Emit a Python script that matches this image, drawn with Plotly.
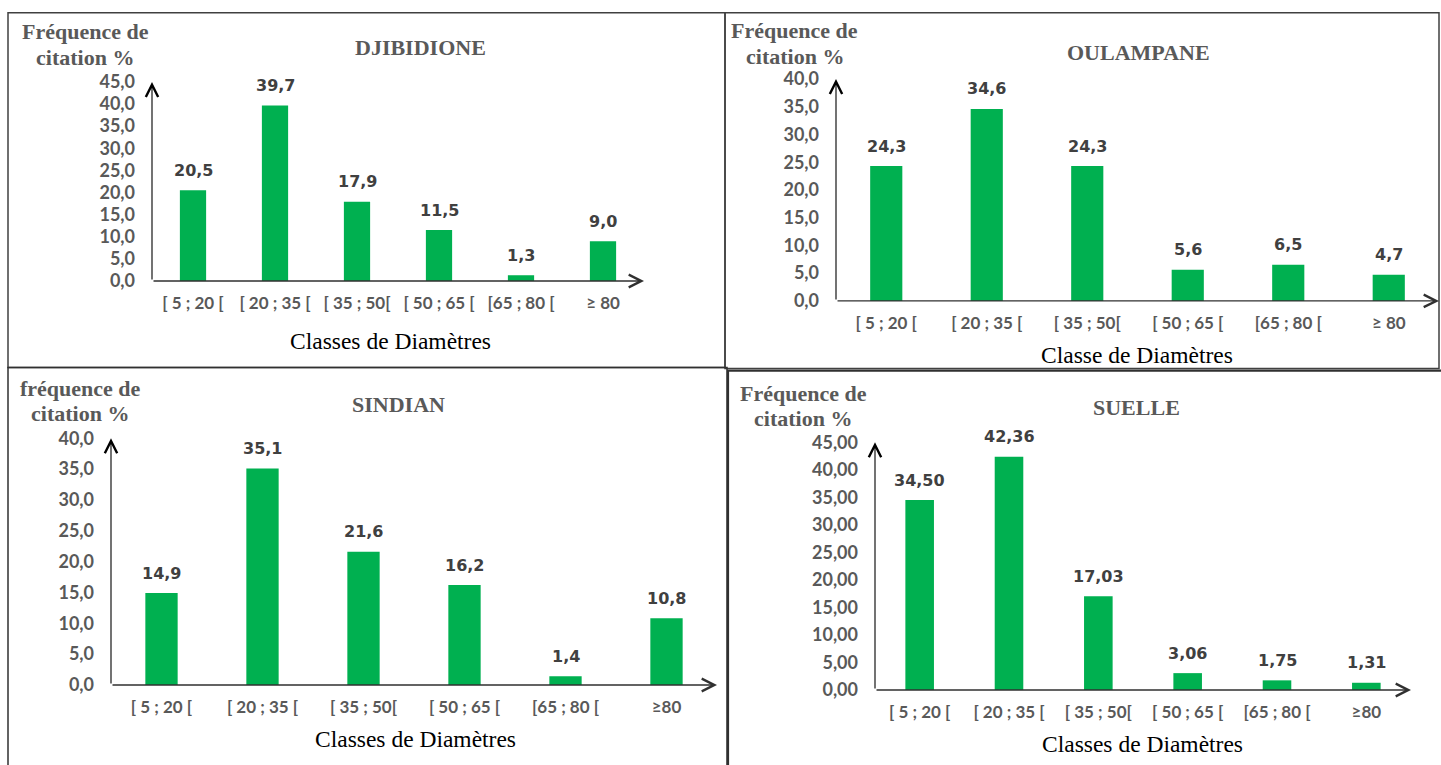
import plotly.graph_objects as go

W, H = 1441, 765

# Diameter classes (tick labels differ slightly between sites)
classes_djibidione = ["[ 5 ; 20 [", "[ 20 ; 35 [", "[ 35 ; 50[", "[ 50 ; 65 [", "[65 ; 80 [", "≥ 80"]
classes_oulampane = ["[ 5 ; 20 [", "[ 20 ; 35 [", "[ 35 ; 50[", "[ 50 ; 65 [", "[65 ; 80 [", "≥ 80"]
classes_sindian = ["[ 5 ; 20 [", "[ 20 ; 35 [", "[ 35 ; 50[", "[ 50 ; 65 [", "[65 ; 80 [", "≥80"]
classes_suelle = ["[ 5 ; 20 [", "[ 20 ; 35 [", "[ 35 ; 50[", "[ 50 ; 65 [", "[65 ; 80 [", "≥80"]

# Citation frequency (%) per diameter class
freq_djibidione = [20.5, 39.7, 17.9, 11.5, 1.3, 9.0]
freq_oulampane = [24.3, 34.6, 24.3, 5.6, 6.5, 4.7]
freq_sindian = [14.9, 35.1, 21.6, 16.2, 1.4, 10.8]
freq_suelle = [34.50, 42.36, 17.03, 3.06, 1.75, 1.31]

# Y-axis tick values
ticks_djibidione = [0, 5, 10, 15, 20, 25, 30, 35, 40, 45]
ticks_oulampane = [0, 5, 10, 15, 20, 25, 30, 35, 40]
ticks_sindian = [0, 5, 10, 15, 20, 25, 30, 35, 40]
ticks_suelle = [0, 5, 10, 15, 20, 25, 30, 35, 40, 45]

GREEN = "#00B050"
GRAY = "#595959"
DARK = "#404040"
SERIF = "Liberation Serif, Times New Roman, serif"
SANS = "Lato, Calibri, sans-serif"
HEAVY = "DejaVu Sans, Arial Black, sans-serif"

# page offset / vertical scale of the displayed figure
Y_OFF, Y_SCALE = 8.7, 0.976


def px(x):
    return x / W


def py(y):
    return 1 - ((y - Y_OFF) / Y_SCALE) / H


panels = [
    dict(name="DJIBIDIONE", ytitle=("Fréquence de", "citation %"), xtitle="Classes de Diamètres",
         cats=classes_djibidione, vals=freq_djibidione, ticks=ticks_djibidione, ymax=45, dec=1,
         x0=152, x1=644, y0=279, y1=79,
         title_xy=(420, 44), ytitle_x=85, ytitle_y=(28, 54), xtitle_xy=(390, 339)),
    dict(name="OULAMPANE", ytitle=("Fréquence de", "citation %"), xtitle="Classe de Diamètres",
         cats=classes_oulampane, vals=freq_oulampane, ticks=ticks_oulampane, ymax=40, dec=1,
         x0=836, x1=1439, y0=299, y1=76,
         title_xy=(1138, 49), ytitle_x=795, ytitle_y=(27, 53), xtitle_xy=(1137, 353)),
    dict(name="SINDIAN", ytitle=("fréquence de", "citation %"), xtitle="Classes de Diamètres",
         cats=classes_sindian, vals=freq_sindian, ticks=ticks_sindian, ymax=40, dec=1,
         x0=111, x1=717, y0=685, y1=437,
         title_xy=(398, 403), ytitle_x=80, ytitle_y=(387, 412), xtitle_xy=(415, 739)),
    dict(name="SUELLE", ytitle=("Fréquence de", "citation %"), xtitle="Classes de Diamètres",
         cats=classes_suelle, vals=freq_suelle, ticks=ticks_suelle, ymax=45, dec=2,
         x0=875, x1=1411, y0=690, y1=441,
         title_xy=(1136, 406), ytitle_x=803, ytitle_y=(392, 417), xtitle_xy=(1142, 744)),
]

fig = go.Figure()
annotations = []
layout_axes = {}

for i, p in enumerate(panels, start=1):
    xa = "x" if i == 1 else f"x{i}"
    ya = "y" if i == 1 else f"y{i}"
    fig.add_trace(go.Bar(
        x=p["cats"], y=p["vals"], xaxis=xa, yaxis=ya,
        marker=dict(color=GREEN, line=dict(width=0)),
        width=0.32, hoverinfo="skip",
    ))
    fmt = f"{{:.{p['dec']}f}}"
    layout_axes[f"xaxis{'' if i == 1 else i}"] = dict(
        domain=[px(p["x0"]), px(p["x1"])], anchor=ya,
        type="category", range=[-0.5, 5.5],
        showline=False, showgrid=False, zeroline=False, ticks="",
        tickfont=dict(family=SANS, size=17, color=GRAY, weight="bold"),
        ticklabelstandoff=10,
    )
    layout_axes[f"yaxis{'' if i == 1 else i}"] = dict(
        domain=[py(p["y0"]), py(p["y1"])], anchor=xa,
        range=[0, p["ymax"]], tickvals=p["ticks"], tickformat=f".{p['dec']}f",
        showline=False, showgrid=False, zeroline=False, ticks="",
        tickfont=dict(family=SANS, size=18, color=GRAY, weight="bold"),
        ticklabelstandoff=16,
    )
    # value labels above each bar
    for c, v in zip(p["cats"], p["vals"]):
        annotations.append(dict(
            x=c, y=v, xref=xa, yref=ya, text=fmt.format(v).replace(".", ","),
            showarrow=False, yanchor="middle", yshift=20,
            font=dict(family=HEAVY, size=16, color=DARK, weight="bold"),
        ))
    # axis lines with open arrow heads
    annotations.append(dict(
        xref=f"{xa} domain", yref=f"{ya} domain", axref=f"{xa} domain", ayref=f"{ya} domain",
        x=1, y=0, ax=0, ay=0, text="", showarrow=True,
        arrowhead=5, arrowsize=1.9, arrowwidth=1.3, arrowcolor="#303030",
    ))
    annotations.append(dict(
        xref=f"{xa} domain", yref=f"{ya} domain", axref=f"{xa} domain", ayref=f"{ya} domain",
        x=0, y=1, ax=0, ay=0, text="", showarrow=True,
        arrowhead=5, arrowsize=2.2, arrowwidth=1.1, arrowcolor="#000000",
    ))
    # chart title
    tx, ty = p["title_xy"]
    annotations.append(dict(
        x=px(tx), y=py(ty), xref="paper", yref="paper", text=p["name"], showarrow=False,
        xanchor="center", yanchor="middle",
        font=dict(family=SERIF, size=22, color=GRAY, weight="bold"),
    ))
    # y-axis title, one annotation per line for tight line spacing
    for line, ly in zip(p["ytitle"], p["ytitle_y"]):
        annotations.append(dict(
            x=px(p["ytitle_x"]), y=py(ly), xref="paper", yref="paper", text=line,
            showarrow=False, xanchor="center", yanchor="middle",
            font=dict(family=SERIF, size=22, color=GRAY, weight="bold"),
        ))
    # x-axis title
    tx, ty = p["xtitle_xy"]
    annotations.append(dict(
        x=px(tx), y=py(ty), xref="paper", yref="paper", text=p["xtitle"], showarrow=False,
        xanchor="center", yanchor="middle",
        font=dict(family=SERIF, size=23.5, color="#000000"),
    ))

# frames around the four charts
frames = [
    dict(x0=8, y0=9.4, x1=725, y1=366, color="#404040", width=1.5),
    dict(x0=725, y0=9.4, x1=1439, y1=367, color="#404040", width=1.5),
    dict(x0=8, y0=366, x1=727, y1=790, color="#303030", width=1.5),
    dict(x0=728, y0=369, x1=1450, y1=790, color="#303030", width=2.2),
]
shapes = [
    dict(type="rect", xref="paper", yref="paper",
         x0=px(f["x0"]), x1=px(f["x1"]), y0=py(f["y1"]), y1=py(f["y0"]),
         line=dict(color=f["color"], width=f["width"]), fillcolor="rgba(0,0,0,0)", layer="below")
    for f in frames
]

fig.update_layout(
    width=W, height=H, autosize=False,
    margin=dict(l=0, r=0, t=0, b=0),
    paper_bgcolor="white", plot_bgcolor="white",
    showlegend=False, separators=", ",
    annotations=annotations, shapes=shapes,
    **layout_axes,
)

fig.write_html("out.html")
